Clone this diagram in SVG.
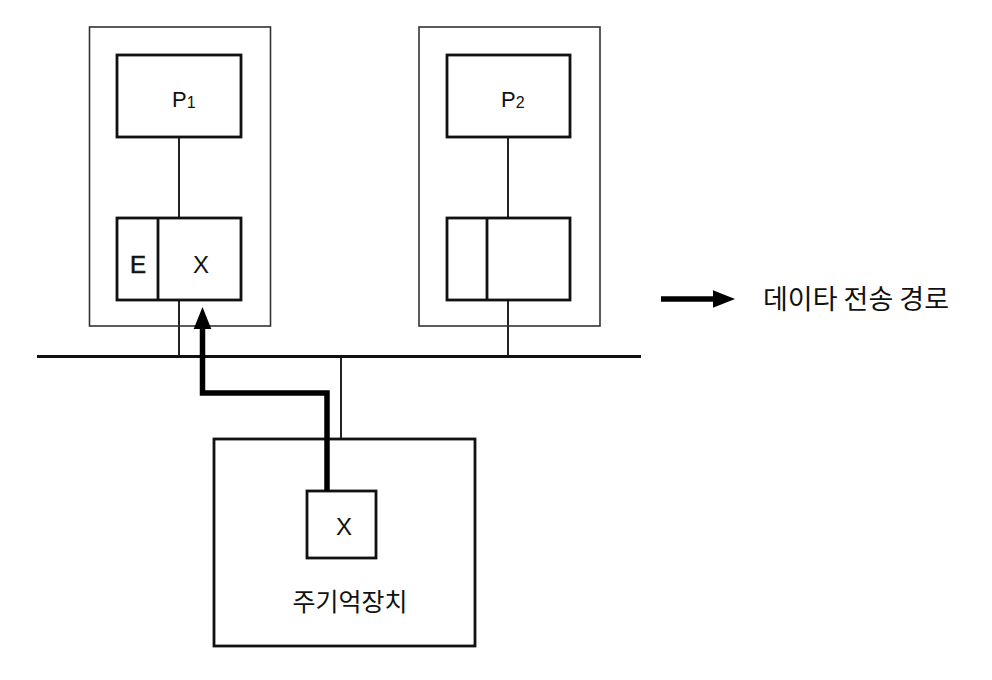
<svg xmlns="http://www.w3.org/2000/svg" width="992" height="680" viewBox="0 0 992 680">
<defs>
<style>
.outer{fill:none;stroke:#333;stroke-width:1.6}
.box{fill:#fff;stroke:#111;stroke-width:2.8}
.ln{fill:none;stroke:#222;stroke-width:2}
.bus{fill:none;stroke:#111;stroke-width:3}
.path{fill:none;stroke:#000;stroke-width:5.5;stroke-linejoin:miter}
text{font-family:"Noto Sans CJK KR","Liberation Sans",sans-serif;fill:#111}
.lb{font-family:"Liberation Sans","Noto Sans CJK KR",sans-serif;font-size:24px}
.p{font-family:"Liberation Sans","Noto Sans CJK KR",sans-serif;font-size:22px}
</style>
<marker id="ah" markerWidth="4" markerHeight="4" refX="2" refY="2" orient="auto" markerUnits="strokeWidth" viewBox="0 0 4 4">
<path d="M0,0.4 L4,2 L0,3.6 Z" fill="#000"/>
</marker>
</defs>
<rect width="992" height="680" fill="#fff"/>
<g id="connectors">
<line class="ln" x1="179" y1="137" x2="179" y2="218"/>
<line class="ln" x1="179" y1="300" x2="179" y2="356"/>
<line class="ln" x1="508" y1="137" x2="508" y2="218"/>
<line class="ln" x1="508" y1="300" x2="508" y2="356"/>
<line class="ln" x1="341" y1="356" x2="341" y2="439"/>
<line class="bus" x1="37" y1="356.5" x2="641" y2="356.5"/>
</g>
<g id="node-cpu1">
<rect class="outer" x="89.5" y="27" width="181" height="299"/>
<rect class="box" x="117" y="55" width="124" height="82"/>
<text class="p" x="172" y="107">P<tspan font-size="16" dy="1">1</tspan></text>
<rect class="box" x="117" y="218" width="124" height="82"/>
<line class="box" x1="158" y1="218" x2="158" y2="300"/>
<text class="lb" x="138" y="273" text-anchor="middle" stroke="#111" stroke-width="0.6">E</text>
<text class="lb" x="201" y="273" text-anchor="middle">X</text>
</g>
<g id="node-cpu2">
<rect class="outer" x="419" y="27" width="181" height="299"/>
<rect class="box" x="447" y="55" width="123" height="82"/>
<text class="p" x="501" y="107">P<tspan font-size="16" dy="1">2</tspan></text>
<rect class="box" x="447" y="218" width="123" height="82"/>
<line class="box" x1="487" y1="218" x2="487" y2="300"/>
</g>
<g id="node-memory">
<rect class="box" x="214" y="439" width="261" height="207"/>
<rect class="box" x="307" y="491" width="69" height="67"/>
<text class="lb" x="344" y="535" text-anchor="middle">X</text>
<text x="350" y="611" font-size="25" text-anchor="middle">주기억장치</text>
</g>
<g id="data-path">
<path class="path" d="M327,491 L327,393 L202.5,393 L202.5,318" marker-end="url(#ah)"/>
</g>
<g id="legend">
<line stroke="#000" stroke-width="5.5" x1="661" y1="299" x2="724" y2="299" marker-end="url(#ah)"/>
<text x="763" y="309" font-size="27">데이타 전송 경로</text>
</g>
</svg>
